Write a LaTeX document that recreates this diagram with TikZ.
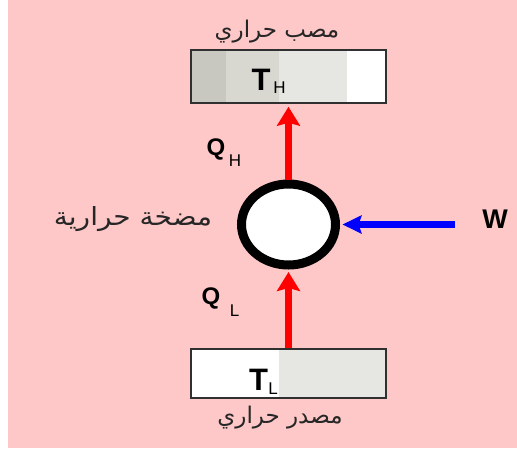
\documentclass[tikz,border=0pt]{standalone}
\usepackage{fontspec}
\setmainfont{Liberation Sans}
\newfontfamily\arabicfont[Script=Arabic]{DejaVu Sans}
\TeXXeTstate=1
\usetikzlibrary{arrows.meta,shapes.geometric}

\definecolor{bgpink}{RGB}{255,200,200}
\definecolor{shadeA}{RGB}{200,200,192}
\definecolor{shadeB}{RGB}{216,216,208}
\definecolor{shadeC}{RGB}{230,230,226}
\definecolor{edgegray}{RGB}{48,48,48}
\definecolor{heatred}{RGB}{255,0,0}
\definecolor{workblue}{RGB}{0,0,255}

\tikzset{
  reservoir/.style={rectangle, draw=edgegray, line width=1.5pt,
    minimum width=195pt, inner sep=0pt},
  pumpring/.style={ellipse, draw=black, fill=white, line width=9pt,
    minimum width=94pt, minimum height=81pt, inner sep=0pt},
  heatflow/.style={draw=heatred, line width=7pt,
    -{Stealth[length=19pt,width=23pt,inset=3pt]}},
  workflow/.style={draw=workblue, line width=7pt,
    -{Stealth[length=19pt,width=18pt,inset=3pt]}},
  bigsym/.style={font=\bfseries\fontsize{31}{31}\selectfont, inner sep=0pt, anchor=base},
  midsym/.style={font=\bfseries\fontsize{24}{24}\selectfont, inner sep=0pt, anchor=base},
  subsym/.style={font=\fontsize{17}{17}\selectfont, inner sep=0pt, anchor=base},
  arlabel/.style={font=\arabicfont\fontsize{23}{23}\selectfont, text=black!85, inner sep=0pt}
}

\begin{document}
\begin{tikzpicture}[x=1pt,y=-1pt]
  \useasboundingbox (0,0) rectangle (517,448);
  % background
  \fill[bgpink] (8,0) rectangle (517,448);

  % hot reservoir (sink) with shaded bands
  \fill[shadeA] (190,49) rectangle (226,104);
  \fill[shadeB] (226,49) rectangle (279,104);
  \fill[shadeC] (279,49) rectangle (347,104);
  \fill[white]  (347,49) rectangle (387,104);
  \node[reservoir, minimum height=53pt] (hot) at (288.5,76.5) {};

  % cold reservoir (source)
  \fill[white]  (190,348) rectangle (279,399);
  \fill[shadeC] (279,348) rectangle (387,399);
  \node[reservoir, minimum height=49pt] (cold) at (288.5,373.5) {};

  % reservoir labels
  \node[bigsym] (th) at (261,90) {T};
  \node[subsym] (thsub) at (279.5,93) {H};
  \node[bigsym] (tl) at (258.5,390) {T};
  \node[subsym] (tlsub) at (273,394) {L};

  \node[arlabel] (sinklabel) at (277,32) {\beginR مصب حراري\endR};
  \node[arlabel] (sourcelabel) at (280,418) {\beginR مصدر حراري\endR};

  % heat pump
  \node[pumpring] (pump) at (288.5,224.5) {};
  \node[arlabel, font=\arabicfont\fontsize{25}{25}\selectfont, xscale=1.12] (pumplabel) at (133,219) {\beginR مضخة حرارية\endR};

  % heat flows
  \draw[heatflow, shorten >=3pt] (pump.north) -- (hot.south);
  \draw[heatflow, shorten >=2.5pt] (cold.north) -- (pump.south);

  % work input
  \coordinate (wtail) at (455,224.5);
  \draw[workflow, shorten >=2.5pt] (wtail) -- (pump.east);
  \node[midsym, font=\bfseries\fontsize{27}{27}\selectfont] (w) at (495,228) {W};

  % heat quantities
  \node[midsym] (qh) at (216,155) {Q};
  \node[subsym] (qhsub) at (235,166) {H};
  \node[midsym] (ql) at (211,304) {Q};
  \node[subsym] (qlsub) at (234.5,316) {L};
\end{tikzpicture}
\end{document}
